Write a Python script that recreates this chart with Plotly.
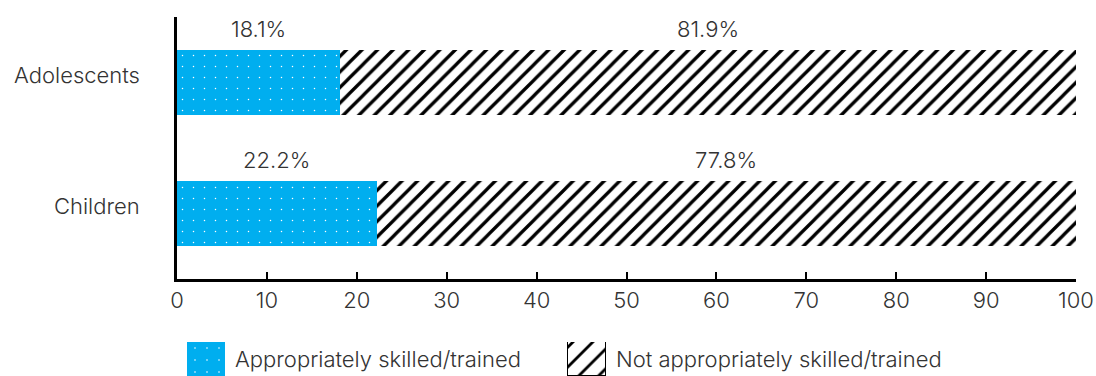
import plotly.graph_objects as go

# Share of staff by skill level, per patient group
groups = ["Children", "Adolescents"]
skilled = [22.2, 18.1]
not_skilled = [77.8, 81.9]
series_names = ["Appropriately skilled/trained", "Not appropriately skilled/trained"]
x_ticks = [0, 10, 20, 30, 40, 50, 60, 70, 80, 90, 100]

BLUE = "#00AEEF"
TEXT = "#333333"
FONT = "Inter"
FSIZE = 22
FWEIGHT = 300

W, H = 1096, 376
M_L, M_R, M_T, M_B = 177, 20, 17, 0
plot_h = H - M_T - M_B
axis_bottom_px = 279
main_domain_lo = (H - axis_bottom_px) / plot_h

txt_font = dict(family=FONT, size=FSIZE, color=TEXT, weight=FWEIGHT)

dots = dict(shape=".", bgcolor=BLUE, fgcolor="white", size=11, solidity=0.015, fillmode="replace")
hatch = dict(shape="/", bgcolor="white", fgcolor="black", size=11, solidity=0.3, fillmode="replace")

fig = go.Figure()

fig.add_trace(go.Bar(
    y=groups, x=skilled, orientation="h", width=0.49,
    marker=dict(color=BLUE, pattern=dots, line=dict(width=0)),
    name=series_names[0], showlegend=False, hoverinfo="x+y",
))
fig.add_trace(go.Bar(
    y=groups, x=not_skilled, orientation="h", width=0.49,
    marker=dict(color="white", pattern=hatch, line=dict(width=0)),
    name=series_names[1], showlegend=False, hoverinfo="x+y",
))

annotations = []
# category labels, sitting slightly above each bar's centre line
for g in groups:
    annotations.append(dict(
        x=0, y=g, xref="paper", yref="y", xanchor="right", yanchor="middle",
        xshift=-35, yshift=8, text=g, showarrow=False, font=txt_font,
    ))

# value labels above each segment
for g, a, b in zip(groups, skilled, not_skilled):
    for start, val in ((0, a), (a, b)):
        annotations.append(dict(
            x=start + val / 2, y=g, xref="x", yref="y",
            text=f"{val:.1f}%", showarrow=False, yshift=54, font=txt_font,
        ))

# custom legend: large swatches drawn as bars on a helper axis
plot_w = W - M_L - M_R
legend_swatch_w = 38
legend_pos = [10 + legend_swatch_w / 2, 391 + legend_swatch_w / 2]
legend_text_x = [56, 437]
fig.add_trace(go.Bar(
    x=[legend_pos[0]], y=[1], width=legend_swatch_w, xaxis="x2", yaxis="y2",
    marker=dict(color=BLUE, pattern=dict(dots, size=12), line=dict(width=0)),
    showlegend=False, hoverinfo="skip",
))
fig.add_trace(go.Bar(
    x=[legend_pos[1]], y=[1], width=legend_swatch_w, xaxis="x2", yaxis="y2",
    marker=dict(color="white", pattern=dict(hatch, size=14, solidity=0.2),
                line=dict(width=1.5, color="black")),
    showlegend=False, hoverinfo="skip",
))
for name, tx in zip(series_names, legend_text_x):
    annotations.append(dict(
        x=tx, y=0.5, xref="x2", yref="y2", xanchor="left", yanchor="middle",
        text=name, showarrow=False, font=txt_font,
    ))

fig.update_layout(
    width=W, height=H,
    margin=dict(l=M_L, r=M_R, t=M_T, b=M_B, pad=0),
    barmode="stack", bargap=0,
    plot_bgcolor="white", paper_bgcolor="white",
    font=txt_font,
    annotations=annotations,
    xaxis=dict(
        range=[0, 100], tickvals=x_ticks, showgrid=False, zeroline=False,
        showline=True, linecolor="black", linewidth=2.5,
        ticks="inside", ticklen=7, tickwidth=2, tickcolor="black",
        tickfont=txt_font, anchor="y", fixedrange=True,
    ),
    yaxis=dict(
        domain=[main_domain_lo, 1], range=[-0.5, 1.5],
        showgrid=False, zeroline=False, showline=True, linecolor="black", linewidth=2.5,
        ticks="", showticklabels=False, fixedrange=True,
    ),
    xaxis2=dict(range=[0, plot_w], visible=False, anchor="y2", fixedrange=True),
    yaxis2=dict(domain=[0, 34 / plot_h], range=[0, 1], visible=False, fixedrange=True),
)

fig.write_html("out.html", config={"displayModeBar": False})
